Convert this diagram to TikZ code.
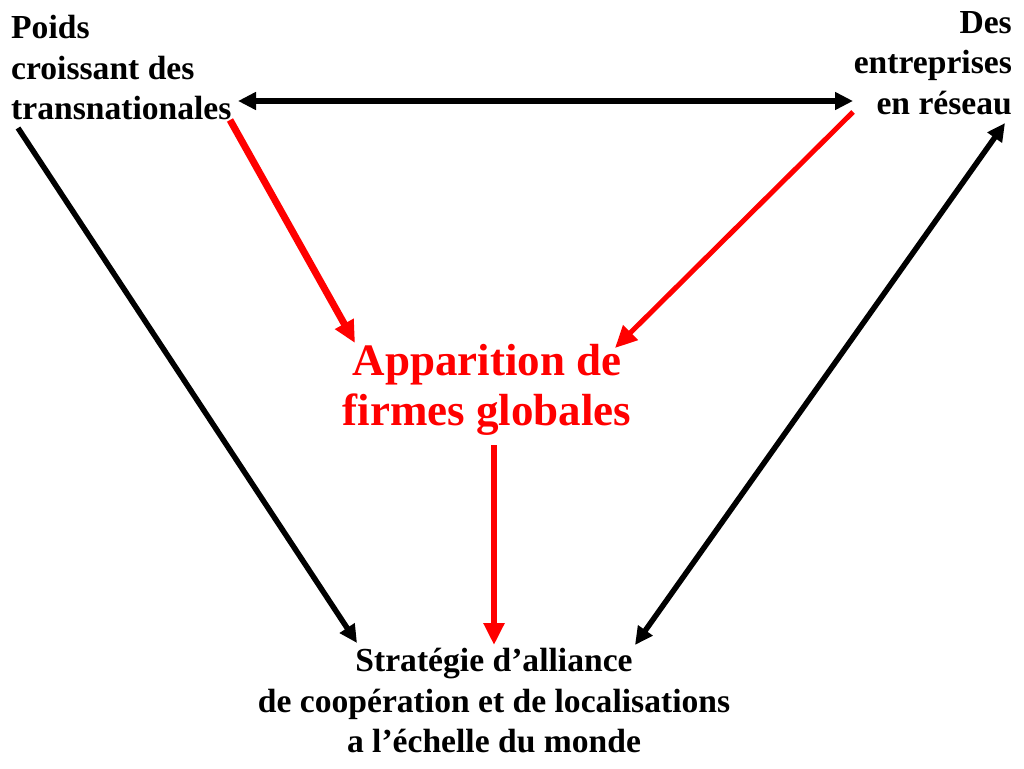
\documentclass[tikz,border=0pt]{standalone}
\usepackage{fontspec}
\setmainfont{Liberation Serif}
\usetikzlibrary{arrows.meta}
\begin{document}
\begin{tikzpicture}[x=1pt,y=-1pt,
 lbl/.style={inner sep=0pt, font=\bfseries\fontsize{33.6}{40.5}\selectfont},
 midlbl/.style={inner sep=0pt, text=red, font=\bfseries\fontsize{45}{50}\selectfont, align=center},
 blk/.style={line width=5.5pt, -{Triangle[length=18pt,width=17pt]}},
 blkboth/.style={line width=5.5pt, {Triangle[length=18pt,width=17pt]}-{Triangle[length=18pt,width=17pt]}},
 redarr/.style={red, line width=6pt, -{Triangle[length=22pt,width=20pt]}}]
\useasboundingbox (0,0) rectangle (1024,768);
\node[lbl, align=left, anchor=north west] (tl) at (11,15) {Poids\\croissant des\\transnationales};
\node[lbl, align=right, anchor=north east] (tr) at (1012,11) {Des\\entreprises\\en réseau};
\node[midlbl, anchor=north] (mid) at (487,344) {Apparition de\\firmes globales};
\node[lbl, align=center, anchor=north] (bot) at (494,648) {Stratégie d’alliance\\de coopération et de localisations\\a l’échelle du monde};
% endpoints
\coordinate (h1) at (238,101);
\coordinate (h2) at (853,101);
\coordinate (r1s) at (230,120);
\coordinate (r1e) at (355,343);
\coordinate (r2s) at (853,112);
\coordinate (r2e) at (615,348);
\coordinate (r3s) at (494,445);
\coordinate (r3e) at (494,645);
\coordinate (b1s) at (18,128);
\coordinate (b1e) at (357,643);
\coordinate (b2s) at (1005,123);
\coordinate (b2e) at (635,645);
% connectors
\draw[blkboth] (h1) -- (h2);
\draw[redarr, line width=7pt] (r1s) -- (r1e);
\draw[redarr, line width=5pt] (r2s) -- (r2e);
\draw[redarr] (r3s) -- (r3e);
\draw[blk] (b1s) -- (b1e);
\draw[blkboth] (b2s) -- (b2e);
\end{tikzpicture}
\end{document}
